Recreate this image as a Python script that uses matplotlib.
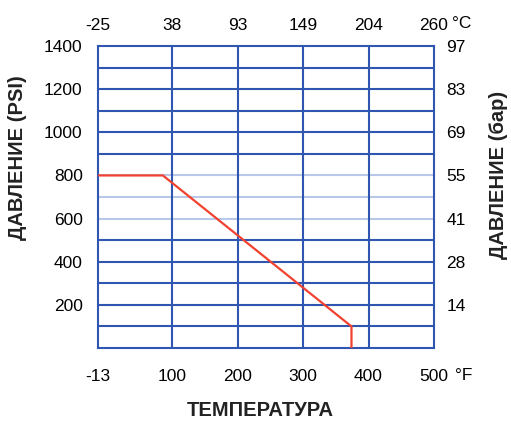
import numpy as np
import matplotlib
matplotlib.use('Agg')
import matplotlib.pyplot as plt

# data
temp_f = [-13, 100, 200, 300, 400, 500]
temp_c = [-25, 38, 93, 149, 204, 260]
psi_ticks = [200, 400, 600, 800, 1000, 1200, 1400]
bar_ticks = [14, 28, 41, 55, 69, 83, 97]
grid_psi = list(range(100, 1400, 100))
light_psi = [600, 700, 800]

curve_f = [-13, 86, 374, 374]
curve_psi = [800, 800, 100, 0]

blue = '#2f56b0'
light = '#b9c8e8'
red = '#f2412f'

plt.rcParams['font.family'] = ['Liberation Sans', 'DejaVu Sans']

fig = plt.figure(figsize=(5.11, 4.25), dpi=100)
ax = fig.add_axes([98/511, 77/425, 336/511, 302/425])
ax.set_xlim(-13, 500)
ax.set_ylim(0, 1400)

for y in grid_psi:
	c = light if y in light_psi else blue
	ax.axhline(y, color=c, lw=1.5, zorder=1)
for x in temp_f[1:-1]:
	ax.axvline(x, color=blue, lw=1.5, zorder=2)
for s in ax.spines.values():
	s.set_color(blue)
	s.set_linewidth(1.5)

ax.plot(curve_f, curve_psi, color=red, lw=1.6, zorder=3, solid_joinstyle='miter')

tick_fs = 12.5
ax.set_xticks(temp_f)
ax.set_xticklabels([str(t) for t in temp_f])
ax.set_yticks(psi_ticks)
ax.set_yticklabels([str(p) for p in psi_ticks])
ax.tick_params(axis='x', length=0, labelsize=tick_fs, pad=15)
ax.tick_params(axis='y', length=0, labelsize=tick_fs, pad=11)

ax_top = ax.twiny()
ax_top.set_xlim(ax.get_xlim())
ax_top.set_xticks(temp_f)
ax_top.set_xticklabels([str(t) for t in temp_c])
ax_top.tick_params(length=0, labelsize=tick_fs, pad=9)

ax_r = ax.twinx()
ax_r.set_ylim(ax.get_ylim())
ax_r.set_yticks(psi_ticks)
ax_r.set_yticklabels([str(b) for b in bar_ticks])
ax_r.tick_params(length=0, labelsize=tick_fs, pad=9)
for a in (ax_top, ax_r):
	for s in a.spines.values():
		s.set_visible(False)

fig.text(455/511, 1 - 375/425, '°F', fontsize=tick_fs, va='center', ha='left')
fig.text(452/511, 1 - 24/425, '°C', fontsize=tick_fs, va='center', ha='left')

lab_fs = 14.5
fig.text(18/511, 1 - 158/425, 'ДАВЛЕНИЕ (PSI)', rotation=90, fontsize=lab_fs,
	fontweight='bold', ha='center', va='center', color='#222222')
fig.text(498/511, 1 - 175/425, 'ДАВЛЕНИЕ (бар)', rotation=90, fontsize=lab_fs,
	fontweight='bold', ha='center', va='center', color='#222222')
fig.text(260/511, 1 - 410/425, 'ТЕМПЕРАТУРА', fontsize=lab_fs,
	fontweight='bold', ha='center', va='center', color='#222222')

fig.savefig('out.png', dpi=100)
